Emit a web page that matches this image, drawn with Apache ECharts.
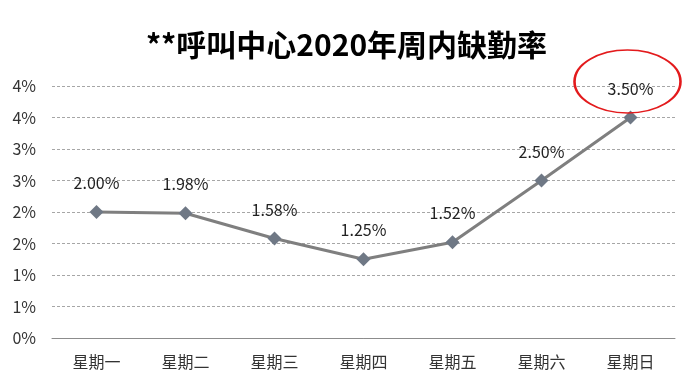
<!DOCTYPE html>
<html>
<head>
<meta charset="utf-8">
<script src="https://cdn.jsdelivr.net/npm/echarts@6/dist/echarts.min.js"></script>
<style>html,body{margin:0;padding:0;background:#fff;}#c{width:693px;height:390px;}</style>
</head>
<body>
<div id="c"></div>
<script>
const titleText = '**呼叫中心2020年周内缺勤率';
const categories = ['星期一','星期二','星期三','星期四','星期五','星期六','星期日'];
const absenceRate = [2.00, 1.98, 1.58, 1.25, 1.52, 2.50, 3.50];
const yMin = 0, yMax = 4, yStep = 0.5;

const chart = echarts.init(document.getElementById('c'));
chart.setOption({
  animation: false,
  backgroundColor: '#fff',
  title: {
    text: titleText,
    left: 'center',
    top: 25,
    textStyle: { fontFamily: '"Noto Sans CJK SC", sans-serif', fontWeight: 'bold', fontSize: 30, color: '#000' }
  },
  grid: { left: 52, right: 18, top: 86, bottom: 52 },
  xAxis: {
    type: 'category',
    data: categories,
    boundaryGap: true,
    axisLine: { lineStyle: { color: '#8c8c8c', width: 1 } },
    axisTick: { show: false },
    axisLabel: { margin: 16, fontSize: 16, color: '#333', fontFamily: '"Noto Sans CJK SC", sans-serif' }
  },
  yAxis: {
    type: 'value',
    min: yMin, max: yMax, interval: yStep,
    axisLine: { show: false },
    axisTick: { show: false },
    axisLabel: { margin: 16, fontSize: 16, color: '#333', fontFamily: '"Noto Sans CJK SC", sans-serif',
      formatter: v => Math.round(v) + '%' },
    splitLine: { lineStyle: { color: '#a6a6a6', type: [3, 2], width: 1 } }
  },
  series: [{
    type: 'line',
    data: absenceRate,
    symbol: 'diamond',
    symbolSize: 14,
    lineStyle: { color: '#7f7f7f', width: 3 },
    itemStyle: { color: '#6f7885' },
    label: {
      show: true, position: 'top', distance: 14,
      fontSize: 16, color: '#222', fontFamily: '"Noto Sans CJK SC", sans-serif',
      formatter: p => p.value.toFixed(2) + '%'
    },
    markPoint: {
      silent: true,
      symbol: 'circle',
      symbolSize: [106, 63],
      symbolOffset: [-3, -36],
      itemStyle: { color: 'rgba(0,0,0,0)', borderColor: '#e31a1c', borderWidth: 2 },
      label: { show: false },
      data: [{ coord: [6, absenceRate[6]] }]
    }
  }]
});
</script>
</body>
</html>
